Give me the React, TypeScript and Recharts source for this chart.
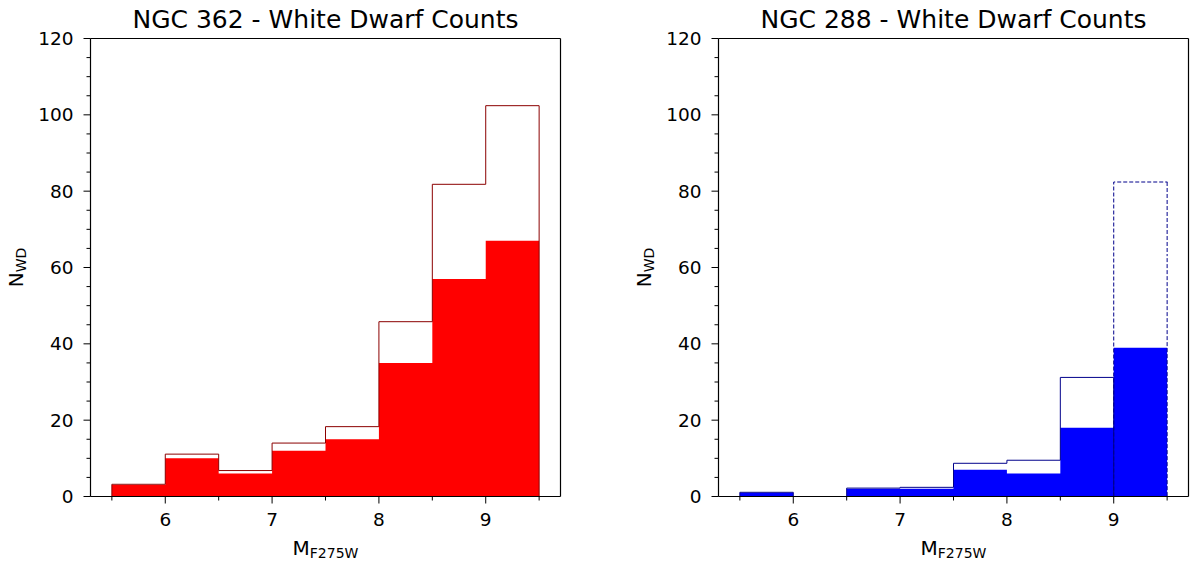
import React from 'react';
import { ComposedChart, Area, Line, XAxis, YAxis, Label } from 'recharts';

// Magnitude bin edges (F275W absolute magnitude)
const binEdges = [5.5, 6, 6.5, 7, 7.5, 8, 8.5, 9, 9.5];

// NGC 362: observed counts and completeness-corrected counts per bin
const ngc362Observed = [3, 10, 6, 12, 15, 35, 57, 67];
const ngc362Corrected = [3.2, 11.1, 6.8, 14.0, 18.3, 45.8, 81.8, 102.4];

// NGC 288: observed counts and completeness-corrected counts per bin
const ngc288Observed = [1, 0, 2, 2, 7, 6, 18, 39];
const ngc288Corrected = [1.1, 0, 2.2, 2.4, 8.7, 9.5, 31.2, 82.4];

// Axis ticks (majors get labels, the rest are minor marks)
const xTicks = [5.5, 6, 6.5, 7, 7.5, 8, 8.5, 9, 9.5];
const xMajorTicks = [6, 7, 8, 9];
const yTicks = [0, 5, 10, 15, 20, 25, 30, 35, 40, 45, 50, 55, 60, 65, 70, 75, 80, 85, 90, 95, 100, 105, 110, 115, 120];
const yMajorTicks = [0, 20, 40, 60, 80, 100, 120];

const xDomain: [number, number] = [5.3, 9.7];
const yDomain: [number, number] = [0, 120];

const FONT = '"DejaVu Sans", sans-serif';
const Y_AXIS_W = 60;
const SPINE = { stroke: '#000', strokeWidth: 1.2 };

type Pt = { x: number; y: number };

// filled histogram: one point per left edge, closing point on the last edge
function filledSteps(edges: number[], values: number[]): Pt[] {
  const pts = values.map((v, i) => ({ x: edges[i], y: v }));
  pts.push({ x: edges[values.length], y: values[values.length - 1] });
  return pts;
}

// step outline: rises from the baseline, follows each bin top, drops back to baseline
function outlineSteps(edges: number[], values: number[]): Pt[] {
  const pts: Pt[] = [{ x: edges[0], y: 0 }];
  values.forEach((v, i) => pts.push({ x: edges[i], y: v }));
  pts.push({ x: edges[values.length], y: values[values.length - 1] });
  pts.push({ x: edges[values.length], y: 0 });
  return pts;
}

const YTick = (props: any) => {
  const { x, y, payload } = props;
  const v = payload.value;
  const major = yMajorTicks.includes(v);
  return (
    <g>
      <line x1={x - (major ? 7 : 4)} x2={x} y1={y} y2={y} stroke="#000" strokeWidth={1} />
      {major && (
        <text x={x - 17} y={y} dy="0.36em" textAnchor="end" fontFamily={FONT} fontSize={18.5} fill="#000">
          {v}
        </text>
      )}
    </g>
  );
};

const XTick = (props: any) => {
  const { x, y, payload } = props;
  const v = payload.value;
  const major = xMajorTicks.includes(v);
  return (
    <g>
      <line x1={x} x2={x} y1={y} y2={y + (major ? 7 : 4)} stroke="#000" strokeWidth={1} />
      {major && (
        <text x={x} y={y + 29.5} textAnchor="middle" fontFamily={FONT} fontSize={18.5} fill="#000">
          {v}
        </text>
      )}
    </g>
  );
};

type PanelProps = {
  left: number;
  width: number;
  marginLeft: number;
  marginRight: number;
  title: string;
  observed: number[];
  corrected: number[];
  fill: string;
  edge: string;
  dashedLastBin?: boolean;
};

const Panel = ({ left, width, marginLeft, marginRight, title, observed, corrected, fill, edge, dashedLastBin }: PanelProps) => {
  const n = observed.length;
  const filled = filledSteps(binEdges, observed);
  const solidOutline = dashedLastBin
    ? outlineSteps(binEdges.slice(0, n), corrected.slice(0, n - 1))
    : outlineSteps(binEdges, corrected);
  const dashedOutline = dashedLastBin ? outlineSteps(binEdges.slice(n - 1), corrected.slice(n - 1)) : null;
  const plotLeft = marginLeft + Y_AXIS_W;

  return (
    <div style={{ position: 'absolute', left, top: 0 }}>
      <ComposedChart
        width={width}
        height={565}
        margin={{ top: 37.5, right: marginRight - 1, bottom: 8.5, left: marginLeft }}
      >
        <XAxis
          dataKey="x"
          type="number"
          domain={xDomain}
          ticks={xTicks}
          interval={0}
          tick={<XTick />}
          tickLine={false}
          tickSize={0}
          tickMargin={0}
          height={60}
          axisLine={SPINE}
          allowDataOverflow
        >
          <Label
            content={(p: any) => {
              const vb = p.viewBox;
              const cx = vb.x + vb.width / 2;
              return (
                <text x={cx} y={555} textAnchor="middle" fontFamily={FONT} fill="#000">
                  <tspan fontSize={20}>M</tspan>
                  <tspan fontSize={14} dy={3}>F275W</tspan>
                </text>
              );
            }}
          />
        </XAxis>
        <XAxis
          xAxisId="top"
          dataKey="x"
          orientation="top"
          type="number"
          domain={xDomain}
          tick={false}
          tickLine={false}
          height={1}
          axisLine={SPINE}
          allowDataOverflow
        >
          <Label
            content={(p: any) => {
              const vb = p.viewBox;
              const cx = vb.x + vb.width / 2;
              return (
                <text x={cx} y={28} textAnchor="middle" fontFamily={FONT} fontSize={25} fill="#000">
                  {title}
                </text>
              );
            }}
          />
        </XAxis>
        <YAxis
          type="number"
          domain={yDomain}
          ticks={yTicks}
          interval={0}
          tick={<YTick />}
          tickLine={false}
          tickSize={0}
          tickMargin={0}
          width={Y_AXIS_W}
          axisLine={SPINE}
          allowDataOverflow
        >
          <Label
            content={(p: any) => {
              const vb = p.viewBox;
              const cy = vb.y + vb.height / 2;
              const x = plotLeft - 67.5;
              return (
                <text
                  x={x}
                  y={cy}
                  transform={`rotate(-90 ${x} ${cy})`}
                  textAnchor="middle"
                  fontFamily={FONT}
                  fill="#000"
                >
                  <tspan fontSize={20}>N</tspan>
                  <tspan fontSize={14} dy={3}>WD</tspan>
                </text>
              );
            }}
          />
        </YAxis>
        <YAxis
          yAxisId="right"
          orientation="right"
          type="number"
          domain={yDomain}
          tick={false}
          tickLine={false}
          width={1}
          axisLine={SPINE}
          allowDataOverflow
        />
        {/* outlines are plotted against the top/right axes, which share the same domains */}
        <Line
          data={solidOutline}
          dataKey="y"
          xAxisId="top"
          yAxisId="right"
          type="stepAfter"
          stroke={edge}
          strokeWidth={1}
          dot={false}
          isAnimationActive={false}
        />
        {dashedOutline && (
          <Line
            data={dashedOutline}
            dataKey="y"
            xAxisId="top"
            yAxisId="right"
            type="stepAfter"
            stroke={edge}
            strokeWidth={1}
            strokeDasharray="4 2"
            dot={false}
            isAnimationActive={false}
          />
        )}
        <Area
          data={filled}
          dataKey="y"
          type="stepAfter"
          fill={fill}
          fillOpacity={1}
          stroke="none"
          isAnimationActive={false}
        />
      </ComposedChart>
    </div>
  );
};

export default function App() {
  return (
    <div style={{ position: 'absolute', left: 0, top: 0, width: 1194, height: 565, background: '#fff', overflow: 'hidden' }}>
      <Panel
        left={0}
        width={597}
        marginLeft={30.5}
        marginRight={36.5}
        title="NGC 362 - White Dwarf Counts"
        observed={ngc362Observed}
        corrected={ngc362Corrected}
        fill="#ff0000"
        edge="#8b0000"
      />
      <Panel
        left={597}
        width={597}
        marginLeft={61.5}
        marginRight={5.5}
        title="NGC 288 - White Dwarf Counts"
        observed={ngc288Observed}
        corrected={ngc288Corrected}
        fill="#0000ff"
        edge="#00008b"
        dashedLastBin
      />
    </div>
  );
}
